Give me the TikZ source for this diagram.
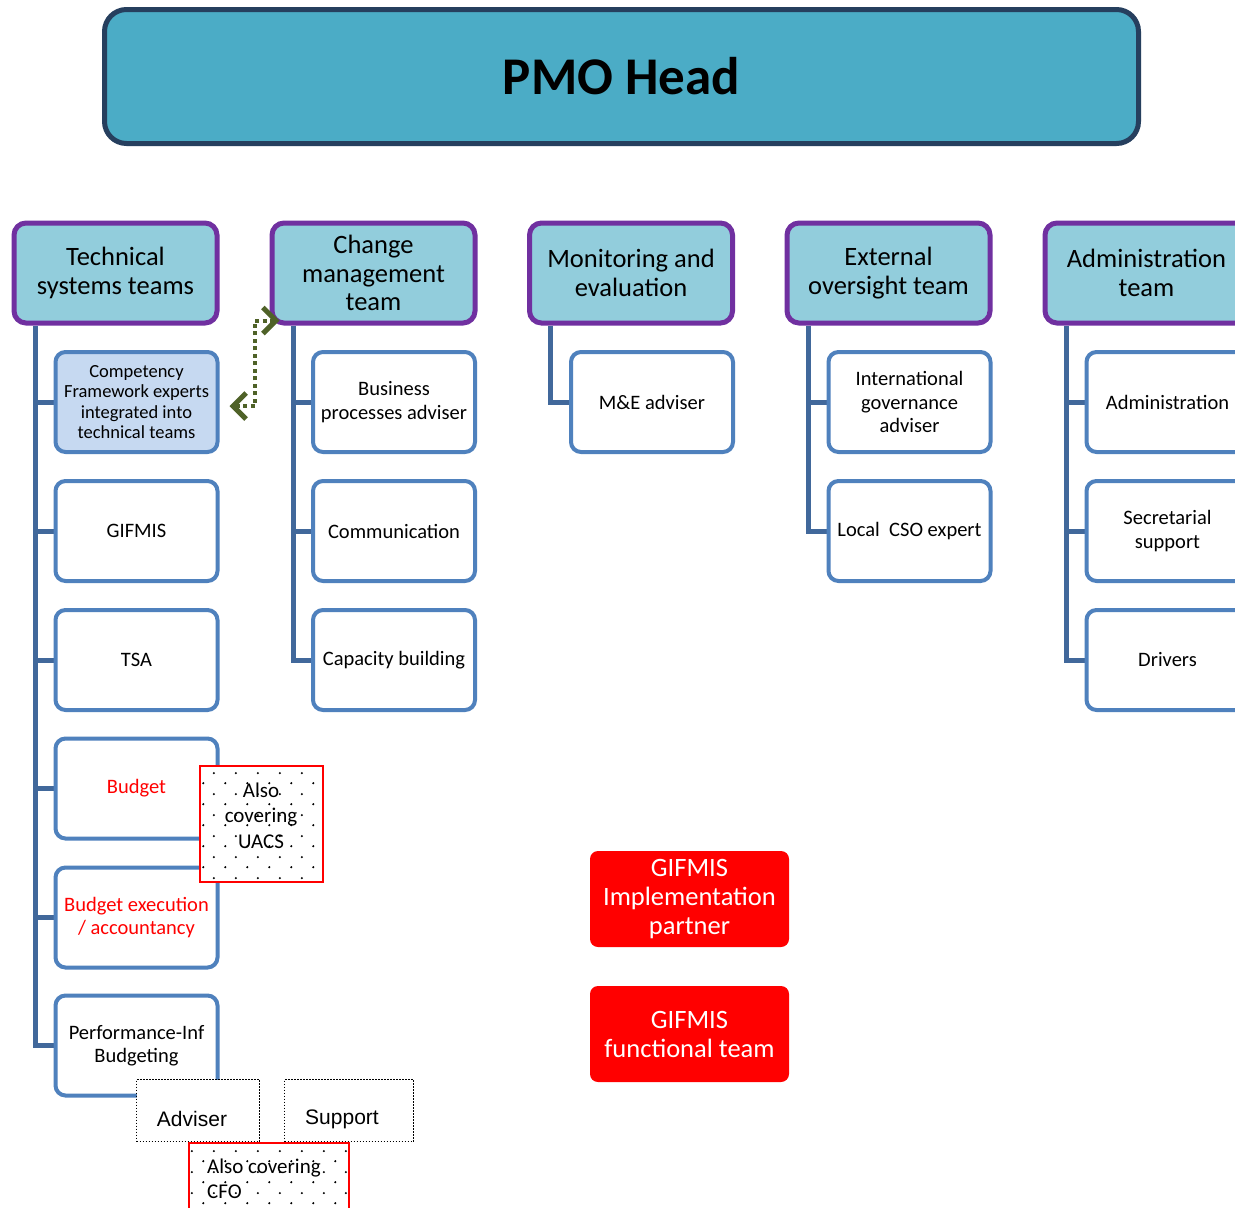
\documentclass[tikz,border=0pt]{standalone}
\usepackage{fontspec}
\setmainfont{Carlito}
\newfontfamily\arialf{Liberation Sans}
\usetikzlibrary{arrows.meta,patterns.meta,calc}
\definecolor{pmofill}{HTML}{4BACC6}
\definecolor{pmoborder}{HTML}{263F5E}
\definecolor{hdrfill}{HTML}{92CDDC}
\definecolor{hdrborder}{HTML}{7030A0}
\definecolor{childborder}{HTML}{4F81BD}
\definecolor{compfill}{HTML}{C6D9F1}
\definecolor{connc}{HTML}{41689B}
\definecolor{greenc}{HTML}{4F6228}
\definecolor{redc}{HTML}{FF0000}
\tikzdeclarepattern{name=sparsedots, type=uncolored,
  bounding box={(0pt,0pt) and (22pt,21pt)}, tile size={(22pt,21pt)},
  code={\fill (5.5pt,5pt) circle (1.2pt); \fill (16.5pt,15.5pt) circle (1.2pt);}}
\tikzset{
  pmo/.style={draw=pmoborder, fill=pmofill, line width=5pt, rounded corners=22pt,
    minimum width=1034pt, minimum height=134pt, inner sep=0pt,
    font=\fontsize{53}{60}\selectfont\bfseries},
  header/.style={draw=hdrborder, fill=hdrfill, line width=5pt, rounded corners=12pt,
    minimum width=203pt, minimum height=100pt, align=center, inner sep=0pt,
    font=\fontsize{26.5}{28.5}\selectfont},
  child/.style={draw=childborder, fill=white, line width=4pt, rounded corners=10pt,
    minimum width=162pt, minimum height=100pt, align=center, inner sep=0pt,
    font=\fontsize{20.5}{23.5}\selectfont},
  conn/.style={draw=connc, line width=5pt},
  greenarr/.style={draw=greenc, line width=4pt, dash pattern=on 4pt off 3.5pt,
    {Straight Barb[length=13pt,width=26pt,line width=5pt]}-{Straight Barb[length=13pt,width=26pt,line width=5pt]}},
  redbox/.style={fill=redc, rounded corners=8pt, minimum width=199pt, minimum height=96pt,
    align=center, inner sep=0pt, text=white, font=\fontsize{26.5}{29}\selectfont},
  dotbox/.style={draw=redc, line width=2pt, preaction={fill=white}, pattern=sparsedots,
    inner sep=0pt},
  plainbox/.style={draw=black, fill=white, line width=1.5pt, dash pattern=on 1.5pt off 1.5pt,
    inner sep=0pt, minimum height=62pt},
  lbl/.style={align=center, inner sep=0pt, font=\fontsize{21}{25.5}\selectfont}
}
\begin{document}
\begin{tikzpicture}[x=1pt,y=-1pt]
\clip (0,0) rectangle (1235,1208);
\fill[white] (0,0) rectangle (1235,1208);

% PMO head
\node[pmo] (pmo) at (621.5,76.5) {PMO Head};

% headers
\node[header] (h1) at (115.5,273) {Technical\\systems teams};
\node[header] (h2) at (373.5,273) {Change\\management\\team};
\node[header] (h3) at (631,273) {Monitoring and\\evaluation};
\node[header] (h4) at (888.5,273) {External\\oversight team};
\node[header] (h5) at (1146.5,273) {Administration\\team};

% connector spines
\coordinate (v1) at ([xshift=-80.5]h1.south);
\coordinate (v2) at ([xshift=-80.5]h2.south);
\coordinate (v3) at ([xshift=-80.5]h3.south);
\coordinate (v4) at ([xshift=-80.5]h4.south);
\coordinate (v5) at ([xshift=-80.5]h5.south);

\path
  (136.5,402) coordinate (pt1) (136.5,531) coordinate (pt2) (136.5,660) coordinate (pt3)
  (136.5,788.5) coordinate (pt4) (136.5,917.5) coordinate (pt5) (136.5,1045.5) coordinate (pt6);

\draw[conn] (v1) |- (pt6 -| 56,0);
\foreach \p in {pt1,pt2,pt3,pt4,pt5} \draw[conn] (\p -| v1) -- (\p -| 56,0);
\draw[conn] (v2) |- (313.5,660);
\draw[conn] (v2 |- 0,402) -- (313.5,402);
\draw[conn] (v2 |- 0,531) -- (313.5,531);
\draw[conn] (v3) |- (571.5,402);
\draw[conn] (v4) |- (829,531);
\draw[conn] (v4 |- 0,402) -- (829,402);
\draw[conn] (v5) |- (1087,660);
\draw[conn] (v5 |- 0,402) -- (1087,402);
\draw[conn] (v5 |- 0,531) -- (1087,531);

% technical children
\node[child, fill=compfill, font=\fontsize{18.5}{20.4}\selectfont] (t1) at (pt1) {Competency\\Framework experts\\integrated into\\technical teams};
\node[child] (t2) at (pt2) {GIFMIS};
\node[child] (t3) at (pt3) {TSA};
\node[child, text=redc] (t4) at (pt4) {Budget};
\node[child, text=redc] (t5) at (pt5) {Budget execution\\/ accountancy};
\node[child] (t6) at (pt6) {Performance-Inf\\Budgeting};

% change children
\node[child] (c1) at (394,402) {Business\\processes adviser};
\node[child] (c2) at (394,531) {Communication};
\node[child] (c3) at (394,660) {Capacity building};

% M&E child
\node[child] (m1) at (652,402) {M\&E adviser};

% external children
\node[child] (e1) at (909.5,402) {International\\governance\\adviser};
\node[child] (e2) at (909.5,531) {Local\ \ CSO expert};

% admin children
\node[child] (a1) at (1167.5,402) {Administration};
\node[child] (a2) at (1167.5,531) {Secretarial\\support};
\node[child] (a3) at (1167.5,660) {Drivers};

% green dotted double arrow
\coordinate (g1) at (255,406);
\draw[greenarr] ([xshift=10,yshift=-4]t1.east) -- (g1) |- ([xshift=10,yshift=5]h2.south west);

% also covering UACS
\node[dotbox, minimum width=123pt, minimum height=116pt] (uacs) at (261.5,824) {};
\node[lbl] (uacst) at (261,815.5) {Also\\covering\\UACS};

% adviser / support
\node[plainbox, minimum width=123pt] (adv) at (198,1110.5) {};
\node[inner sep=0pt, font=\arialf\fontsize{21}{25}\selectfont] (advt) at (192,1119) {Adviser};
\node[plainbox, minimum width=129pt] (sup) at (349,1110.5) {};
\node[inner sep=0pt, font=\arialf\fontsize{21}{25}\selectfont] (supt) at (342,1119) {Support};

% also covering CFO
\node[dotbox, minimum width=160pt, minimum height=69pt] (cfo) at (269,1177.5) {};
\node[lbl, align=left, anchor=west] (cfot) at (207,1179) {Also covering\\CFO};

% GIFMIS red boxes
\node[redbox] (gip) at (689.5,899) {GIFMIS\\Implementation\\partner};
\node[redbox] (gft) at (689.5,1034) {GIFMIS\\functional team};
\end{tikzpicture}
\end{document}
